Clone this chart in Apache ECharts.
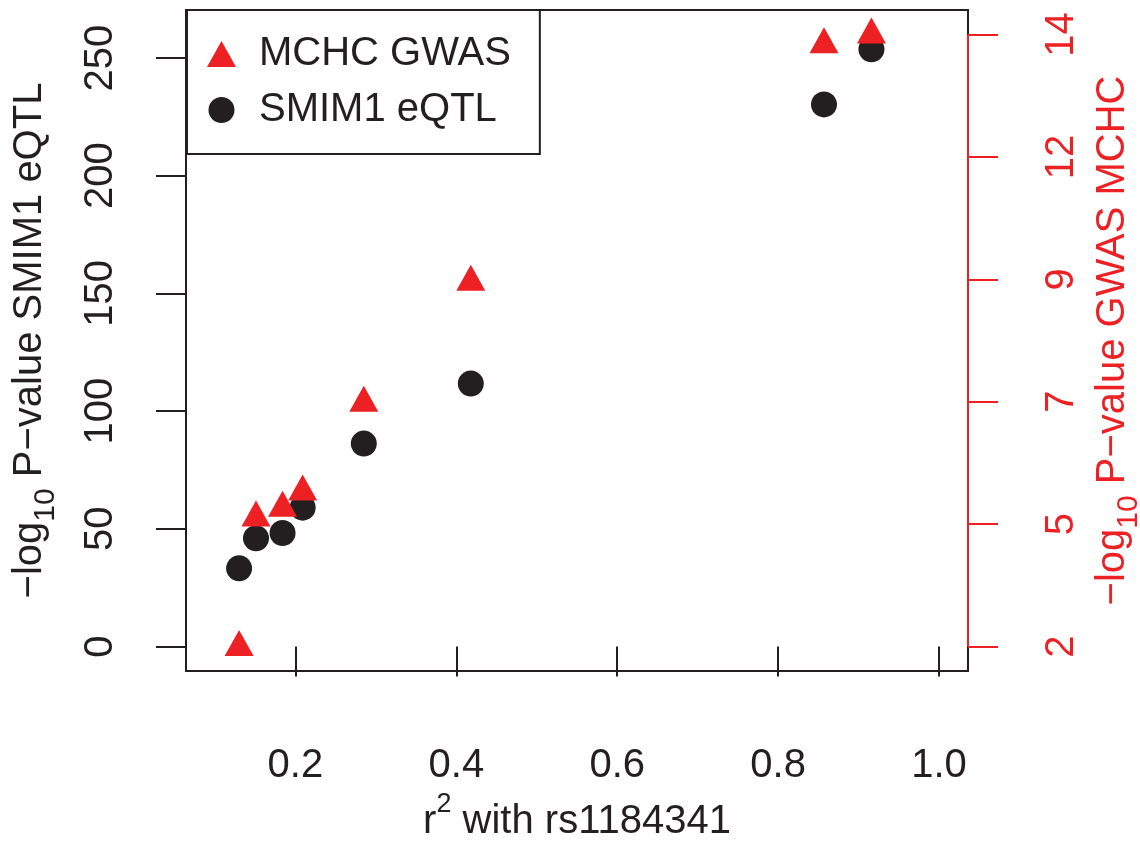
<!DOCTYPE html>
<html>
<head>
<meta charset="utf-8">
<script src="https://cdn.jsdelivr.net/npm/echarts@6.0.0/dist/echarts.min.js"></script>
<style>
  html, body { margin: 0; padding: 0; background: #fff; }
  #main { width: 1140px; height: 843px; }
</style>
</head>
<body>
<div id="main"></div>
<script>
// r^2 with rs1184341 (shared by both series)
var r2 = [0.130, 0.151, 0.184, 0.209, 0.285, 0.418, 0.857, 0.916];
// -log10 P SMIM1 eQTL (left axis)
var eqtl = [33.2, 46.0, 48.2, 59.0, 86.2, 111.7, 230.3, 253.7];
// -log10 P GWAS MCHC (right axis)
var gwas = [2.0, 4.54, 4.73, 5.05, 6.79, 9.16, 13.82, 14.01];

var xTicks = [0.2, 0.4, 0.6, 0.8, 1.0];
var leftTicks = [0, 50, 100, 150, 200, 250];
var rightTicks = [2, 4.4, 6.8, 9.2, 11.6, 14];
var rightLabels = ['2', '5', '7', '9', '12', '14'];

// R style limits: xlim c(0.1,1), ylim c(0,260), right ylim c(2,14), 4% padding
var X_MIN = 0.064, X_MAX = 1.036;
var L_MIN = -10.4, L_MAX = 270.4;
var R_MIN = 1.52, R_MAX = 14.48;

var BLACK = '#231F20';
var RED = '#ED2024';
var FONT = '"Liberation Sans", Arial, Helvetica, sans-serif';

function pairs(xs, ys) {
  return xs.map(function (x, i) { return [x, ys[i]]; });
}

// rich styles for "-log10 ..." titles: main text on top of a taller line, subscript at its bottom
function subRich(color) {
  return {
    n: { fontSize: 40, lineHeight: 51, verticalAlign: 'top', color: color, fontFamily: FONT },
    sub: { fontSize: 30, verticalAlign: 'bottom', color: color, fontFamily: FONT }
  };
}

var myChart = echarts.init(document.getElementById('main'));

myChart.setOption({
  animation: false,
  textStyle: { fontFamily: FONT },
  grid: {
    left: 186, right: 172, top: 10, bottom: 172,
    containLabel: false,
    outerBoundsMode: 'none',
    show: true,
    borderColor: BLACK,
    borderWidth: 2,
    backgroundColor: 'transparent'
  },
  legend: {
    left: 187,
    top: 10,
    orient: 'vertical',
    backgroundColor: '#fff',
    borderColor: BLACK,
    borderWidth: 2,
    borderRadius: 0,
    padding: [21, 29, 21, 20],
    itemWidth: 65,
    itemHeight: 26,
    itemGap: 10,
    selectedMode: false,
    textStyle: { fontSize: 40, color: BLACK, fontFamily: FONT, lineHeight: 46 },
    data: [
      { name: 'MCHC GWAS', icon: 'path://M0,26L14.5,0L29,26Z', itemStyle: { color: RED } },
      { name: 'SMIM1 eQTL', icon: 'circle', itemStyle: { color: BLACK } }
    ]
  },
  xAxis: {
    type: 'value',
    min: X_MIN,
    max: X_MAX,
    axisLine: { show: false },
    splitLine: { show: false },
    axisTick: {
      show: true, length: 30, inside: false,
      customValues: xTicks,
      lineStyle: { color: BLACK, width: 2 }
    },
    axisLabel: {
      customValues: xTicks,
      fontSize: 40, color: BLACK, margin: 75, fontFamily: FONT,
      formatter: function (v) { return v.toFixed(1); }
    },
    name: '{n|r}{sup|2}{n| with rs1184341}',
    nameLocation: 'middle',
    nameGap: 119,
    nameTextStyle: {
      rich: {
        n: { fontSize: 40, lineHeight: 51, verticalAlign: 'bottom', color: BLACK, fontFamily: FONT },
        sup: { fontSize: 27, verticalAlign: 'top', color: BLACK, fontFamily: FONT }
      }
    }
  },
  yAxis: [{
    type: 'value',
    position: 'left',
    min: L_MIN,
    max: L_MAX,
    axisLine: { show: false },
    splitLine: { show: false },
    axisTick: {
      show: true, length: 30, inside: false,
      customValues: leftTicks,
      lineStyle: { color: BLACK, width: 2 }
    },
    axisLabel: {
      customValues: leftTicks,
      rotate: 90,
      fontSize: 40, color: BLACK, margin: 65, fontFamily: FONT
    },
    name: '{n|\u2212log}{sub|10}{n| P\u2212value SMIM1 eQTL}',
    nameLocation: 'middle',
    nameRotate: 90,
    nameGap: 125,
    nameTextStyle: { rich: subRich(BLACK) }
  }, {
    type: 'value',
    position: 'right',
    min: R_MIN,
    max: R_MAX,
    axisLine: { show: false },
    splitLine: { show: false },
    axisTick: {
      show: true, length: 30, inside: false,
      customValues: rightTicks,
      lineStyle: { color: RED, width: 2 }
    },
    axisLabel: {
      customValues: rightTicks,
      rotate: 90,
      fontSize: 40, color: RED, margin: 74, fontFamily: FONT,
      formatter: function (v) {
        for (var i = 0; i < rightTicks.length; i++) {
          if (Math.abs(rightTicks[i] - v) < 1e-6) return rightLabels[i];
        }
        return '';
      }
    },
    name: '{n|\u2212log}{sub|10}{n| P\u2212value GWAS MCHC}',
    nameLocation: 'middle',
    nameRotate: 90,
    nameGap: 125,
    nameTextStyle: { rich: subRich(RED) }
  }],
  series: [{
    name: 'SMIM1 eQTL',
    type: 'scatter',
    yAxisIndex: 0,
    symbol: 'circle',
    symbolSize: 26,
    itemStyle: { color: BLACK, opacity: 1 },
    data: pairs(r2, eqtl)
  }, {
    name: 'MCHC GWAS',
    type: 'scatter',
    yAxisIndex: 1,
    clip: false,
    symbol: 'triangle',
    symbolSize: [29, 26],
    symbolOffset: [0, -3.5],
    itemStyle: { color: RED, opacity: 1 },
    data: pairs(r2, gwas),
    // R draws the right axis line only between its first and last tick
    markLine: {
      silent: true,
      symbol: 'none',
      label: { show: false },
      lineStyle: { color: RED, width: 2, type: 'solid' },
      emphasis: { disabled: true },
      data: [[
        { coord: [X_MAX, rightTicks[0]] },
        { coord: [X_MAX, rightTicks[rightTicks.length - 1]] }
      ]]
    }
  }]
});

window.addEventListener('resize', function () {
  myChart.resize();
});
</script>
</body>
</html>
